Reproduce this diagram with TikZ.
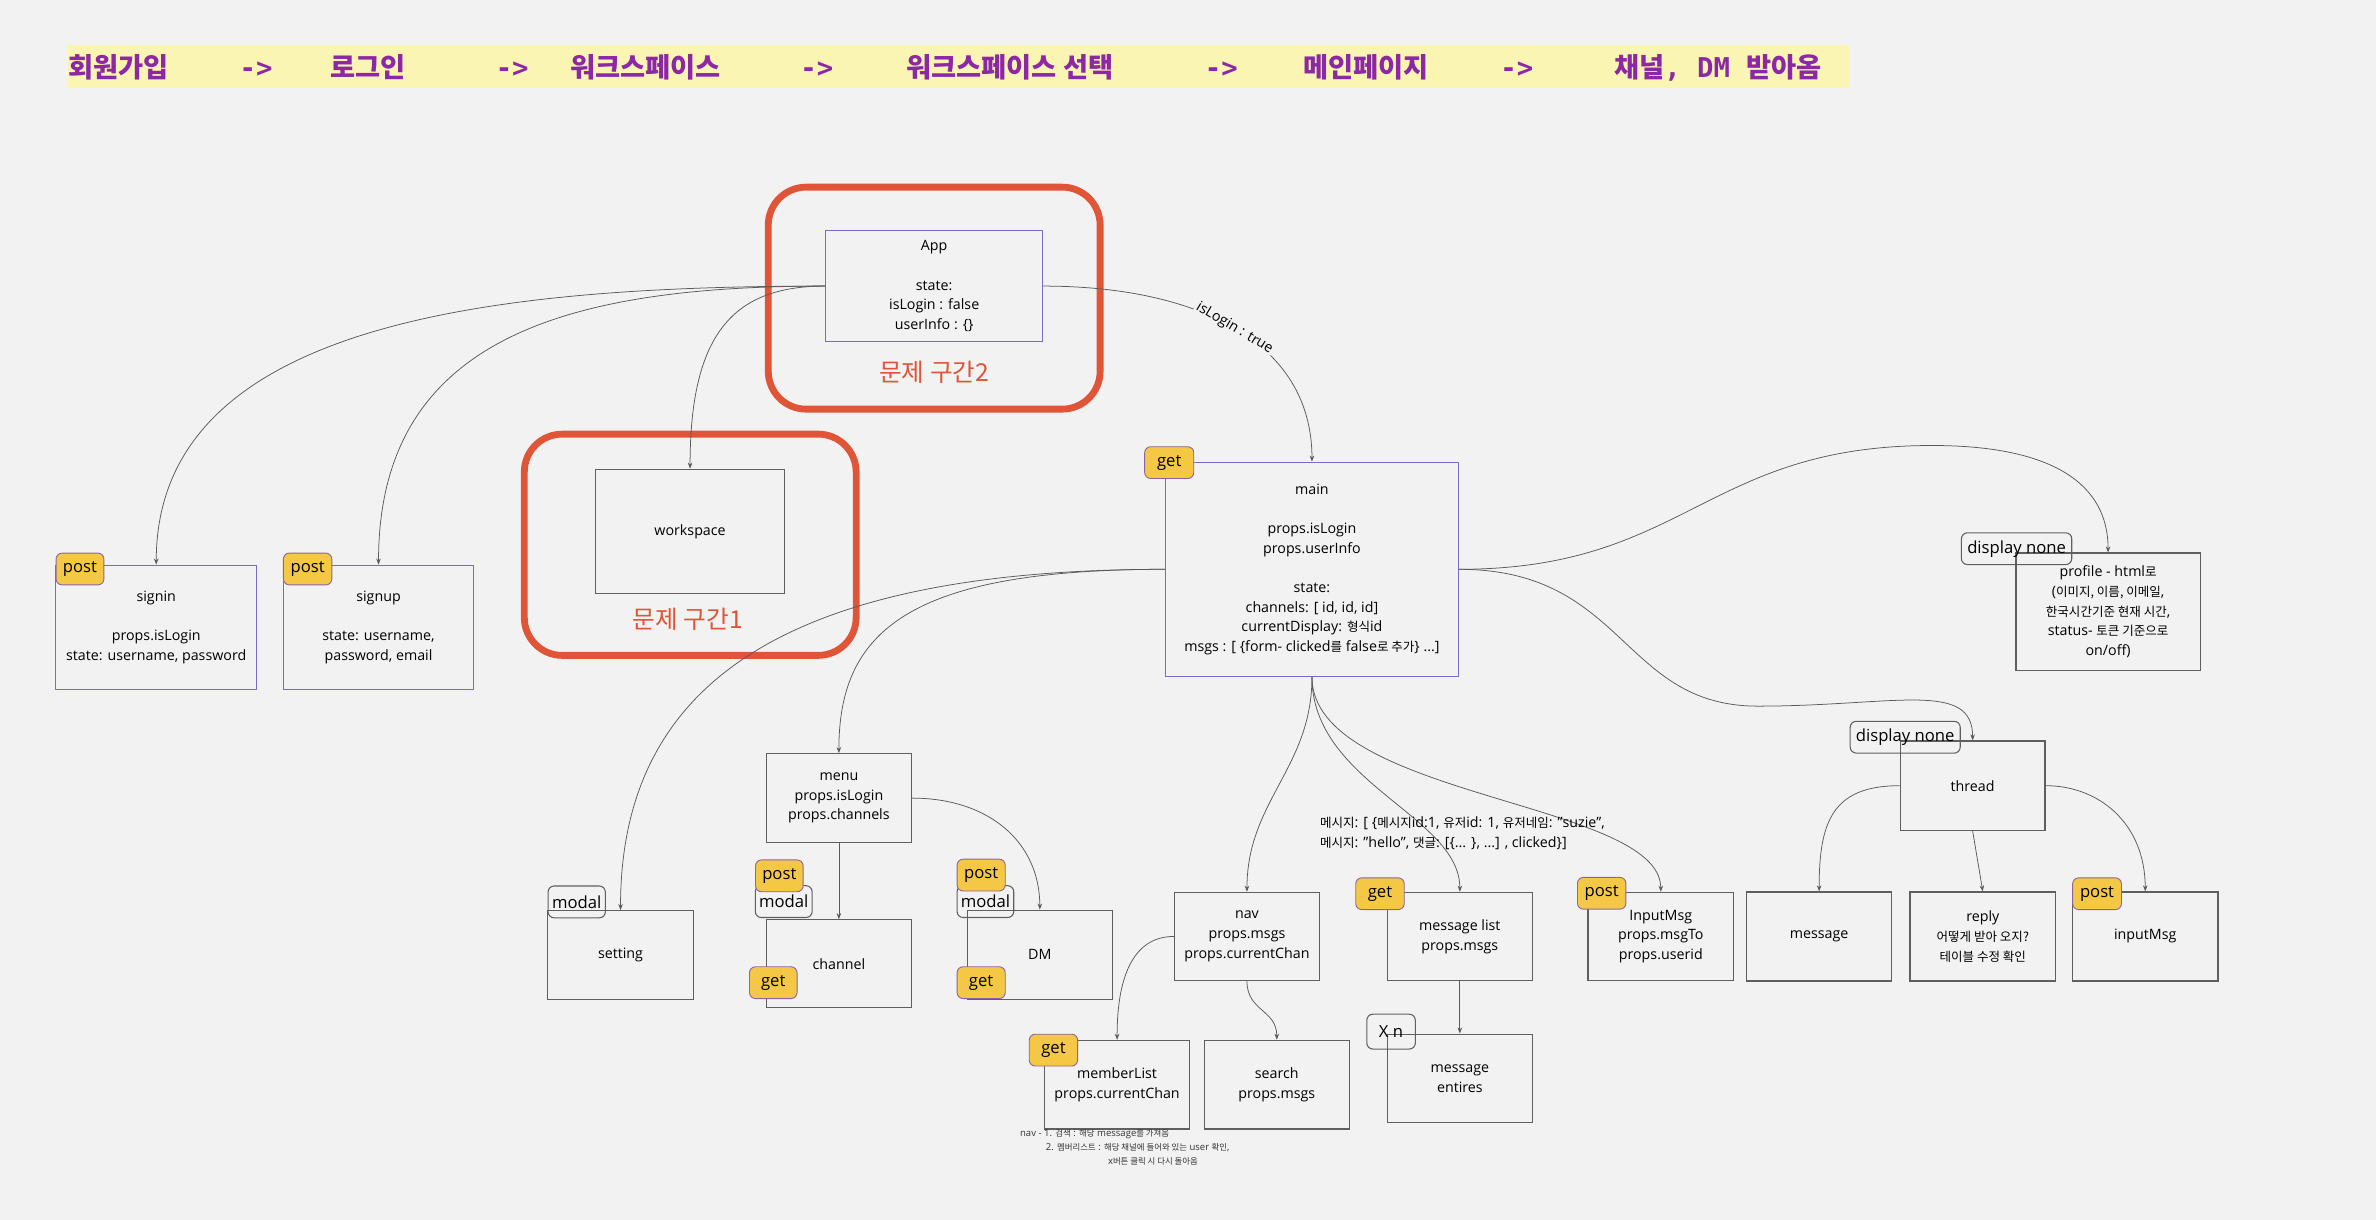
\documentclass[tikz,border=0pt]{standalone}
\usepackage{fontspec}
\setmainfont{Open Sans}
\newfontfamily\krfont[Scale=0.88]{Noto Sans CJK KR}
\newfontfamily\headkrfont{Noto Sans CJK KR}
\newfontfamily\headmono{DejaVu Sans Mono}
\newcommand\kr[1]{{\krfont #1}}
\newcommand\hk[1]{{\headkrfont #1}}
\usetikzlibrary{arrows.meta, positioning}

\definecolor{canvas}{RGB}{242,242,242}
\definecolor{band}{RGB}{251,245,180}
\definecolor{titlepurple}{RGB}{140,40,165}
\definecolor{boxpurple}{RGB}{126,104,204}
\definecolor{boxgray}{RGB}{95,95,95}
\definecolor{tagyellow}{RGB}{244,200,68}
\definecolor{tagedge}{RGB}{140,100,165}
\definecolor{alertred}{RGB}{224,84,56}
\definecolor{wire}{RGB}{90,90,90}

\tikzset{
  comp/.style={draw=boxgray, line width=0.8pt, inner sep=0pt, align=center,
    font=\fontsize{9.4}{13}\selectfont},
  propbox/.style={comp, draw=boxpurple},
  tag/.style={rounded corners=4pt, inner sep=0pt, minimum height=21,
    font=\fontsize{11}{13}\selectfont},
  reqtag/.style={tag, fill=tagyellow, draw=tagedge, line width=0.6pt},
  notetag/.style={tag, draw=boxgray, line width=0.7pt},
  zone/.style={draw=alertred, line width=4.5pt, rounded corners=25pt},
  zonelabel/.style={text=alertred, font=\krfont\fontsize{18.5}{20}\selectfont},
  headline/.style={text=titlepurple, inner sep=0pt,
    font=\headmono\bfseries\fontsize{18}{20}\selectfont},
  flow/.style={draw=wire, line width=0.5pt, -{Stealth[length=4pt, width=3pt]}},
  note/.style={inner sep=0pt, align=left},
}

\begin{document}
\begin{tikzpicture}[x=1pt, y=-1pt]
  \fill[canvas] (0,0) rectangle (1568,805);
  \useasboundingbox (0,0) rectangle (1568,805);

  % title line
  \fill[band] (45,30) rectangle (1220,58);
  \foreach \px/\word [count=\k] in {45/\hk{회원가입}, 158/->, 218/\hk{로그인},
      327/->, 376/\hk{워크스페이스}, 528/->, 598/\hk{워크스페이스 선택}, 795/->,
      860/\hk{메인페이지}, 990/->, 1065/{\hk{채널}, DM \hk{받아옴}}}{
    \node[headline, anchor=base west] (head\k) at (\px,51) {\word};
  }

  % problem zones
  \draw[zone] (507,123.5) rectangle (726,270);
  \node[zonelabel] (zonetwo) at (616.5,246) {문제 구간2};
  \draw[zone] (346,286.5) rectangle (565,432.5);
  \node[zonelabel] (zoneone) at (454,409) {문제 구간1};

  % components
  \node[propbox, minimum width=143, minimum height=73] (app) at (616.5,188.8)
    {App\\[13pt]state:\\isLogin : false\\userInfo : \{\}};
  \node[comp, minimum width=125, minimum height=82] (workspace) at (455.4,350.7) {workspace};
  \node[propbox, minimum width=132.6, minimum height=82] (signin) at (103.1,414)
    {signin\\[13pt]props.isLogin\\state: username, password};
  \node[propbox, minimum width=125.6, minimum height=82] (signup) at (249.8,414)
    {signup\\[13pt]state: username,\\password, email};
  \node[propbox, minimum width=193.2, minimum height=141.3] (main) at (865.8,375.7)
    {main\\[13pt]props.isLogin\\props.userInfo\\[13pt]state:\\channels: [ id, id, id]\\
     currentDisplay: \kr{형식}id\\msgs : [ \{form- clicked\kr{를} false\kr{로 추가}\} ...]};
  \node[comp, minimum width=121.5, minimum height=77.4] (profile) at (1391.2,403.7)
    {profile - html\kr{로}\\(\kr{이미지, 이름, 이메일},\\\kr{한국시간기준 현재 시간},\\
     status- \kr{토큰 기준으로}\\on/off)};
  \node[comp, minimum width=95.6, minimum height=59] (thread) at (1301.8,518.5) {thread};
  \node[comp, minimum width=96, minimum height=58.7] (message) at (1200.5,618) {message};
  \node[comp, minimum width=96, minimum height=58.7] (reply) at (1308.5,618)
    {reply\\\kr{어떻게 받아 오지?}\\\kr{테이블 수정 확인}};
  \node[comp, minimum width=96, minimum height=58.7] (inputmsg) at (1415.7,618) {inputMsg};
  \node[comp, minimum width=96, minimum height=58.6] (menu) at (553.6,526.7)
    {menu\\props.isLogin\\props.channels};
  \node[comp, minimum width=96, minimum height=58.4] (setting) at (409.5,630.2) {setting};
  \node[comp, minimum width=96, minimum height=58] (channel) at (553.6,636) {channel};
  \node[comp, minimum width=95.5, minimum height=58.7] (dm) at (686.2,630) {DM};
  \node[comp, minimum width=95.7, minimum height=58.2] (nav) at (822.9,618)
    {nav\\props.msgs\\props.currentChan};
  \node[comp, minimum width=95.6, minimum height=58.4] (memberlist) at (737.2,715.8)
    {memberList\\props.currentChan};
  \node[comp, minimum width=95.7, minimum height=58.5] (search) at (842.6,715.8)
    {search\\props.msgs};
  \node[comp, minimum width=96, minimum height=58.2] (msglist) at (963.4,618)
    {message list\\props.msgs};
  \node[comp, minimum width=96, minimum height=58.5] (entries) at (963.4,711.7)
    {message\\entires};
  \node[comp, minimum width=96, minimum height=58.2] (inputbox) at (1096,618)
    {InputMsg\\props.msgTo\\props.userid};

  % tags
  \node[reqtag, minimum width=31.6] (signinpost) at (52.8,375.5) {post};
  \node[reqtag, minimum width=32] (signuppost) at (203,375.5) {post};
  \node[reqtag, minimum width=32.4] (mainget) at (771.6,305.3) {get};
  \node[notetag, minimum width=72.8] (profilehide) at (1330.8,362.1) {display none};
  \node[notetag, minimum width=72.6] (threadhide) at (1257.3,486.5) {display none};
  \node[reqtag, minimum width=32.2] (inputmsgpost) at (1383.9,589.8) {post};
  \node[notetag, minimum width=37.8] (settingmodal) at (380.6,595.2) {modal};
  \node[notetag, minimum width=37.5] (channelmodal) at (517.2,595) {modal};
  \node[reqtag, minimum width=31.5] (channelpost) at (514.3,578) {post};
  \node[reqtag, minimum width=31.4] (channelget) at (510.3,648.5) {get};
  \node[notetag, minimum width=37.4] (dmmodal) at (650.3,595) {modal};
  \node[reqtag, minimum width=31.8] (dmpost) at (647.5,577.5) {post};
  \node[reqtag, minimum width=31.8] (dmget) at (647.5,648.5) {get};
  \node[reqtag, minimum width=32] (memberget) at (695.2,693) {get};
  \node[reqtag, minimum width=32] (msglistget) at (910.7,589.8) {get};
  \node[notetag, minimum width=32, minimum height=23] (entriescount) at (918,680.8) {X n};
  \node[reqtag, minimum width=32] (inputboxpost) at (1057,589.5) {post};

  % connectors
  \coordinate (profilebend) at (1275,294);
  \coordinate (threadbend) at (1160,466);
  \draw[flow] (app.west) .. controls +(-220,0) and +(0,-160) .. (signin.north);
  \draw[flow] (app.west) .. controls +(-170,0) and +(0,-150) .. (signup.north);
  \draw[flow] (app.west) .. controls +(-60,0) and +(0,-90) .. (workspace.north);
  \draw[flow] (app.east) .. controls +(100,0) and +(0,-80) ..
    node[pos=.5, sloped, fill=canvas, inner sep=1pt, font=\fontsize{9.4}{11}\selectfont]
    (loginlabel) {isLogin : true} (main.north);
  \draw[flow] (main.west) .. controls +(-250,0) and +(0,-150) .. (setting.north);
  \draw[flow] (main.west) .. controls +(-170,0) and +(0,-80) .. (menu.north);
  \draw[flow] (main.east) .. controls +(150,0) and +(-150,0) .. (profilebend)
    .. controls +(80,0) and +(0,-45) .. (profile.north);
  \draw[flow] (main.east) .. controls +(110,0) and +(-90,0) .. (threadbend)
    .. controls +(90,0) and +(0,-40) .. (thread.north);
  \draw[flow] (main.south) .. controls +(0,60) and +(0,-60) .. (nav.north);
  \draw[flow] (main.south) .. controls +(0,70) and +(0,-50) .. (msglist.north);
  \draw[flow] (main.south) .. controls +(0,80) and +(0,-60) .. (inputbox.north);
  \draw[flow] (menu.south) -- (channel.north);
  \draw[flow] (menu.east) .. controls +(50,0) and +(0,-45) .. (dm.north);
  \draw[flow] (nav.west) .. controls +(-25,0) and +(0,-45) .. (memberlist.north);
  \draw[flow] (nav.south) .. controls +(0,20) and +(0,-20) .. (search.north);
  \draw[flow] (msglist.south) -- (entries.north);
  \draw[flow] (thread.west) .. controls +(-45,0) and +(0,-45) .. (message.north);
  \draw[flow] (thread.south) -- (reply.north);
  \draw[flow] (thread.east) .. controls +(35,0) and +(0,-45) .. (inputmsg.north);

  % notes
  \node[note, anchor=west, font=\fontsize{9.4}{13.4}\selectfont] (msgshape) at (871,550)
    {\kr{메시지}: [ \{\kr{메시지}id:1, \kr{유저}id: 1, \kr{유저네임}: "suzie",\\
     \kr{메시지}: "hello", \kr{댓글}: [\{... \}, ...] , clicked\}]};
  \node[note, anchor=north west, text=black!80, font=\fontsize{6.3}{9.2}\selectfont]
    (navnote) at (673,745)
    {nav - 1. \kr{검색} : \kr{해당} message\kr{를 가져옴}\\
     \hspace*{17pt}2. \kr{멤버리스트} : \kr{해당 채널에 들어와 있는} user \kr{확인},\\
     \hspace*{58pt}x\kr{버튼 클릭 시 다시 돌아옴}};
\end{tikzpicture}
\end{document}
